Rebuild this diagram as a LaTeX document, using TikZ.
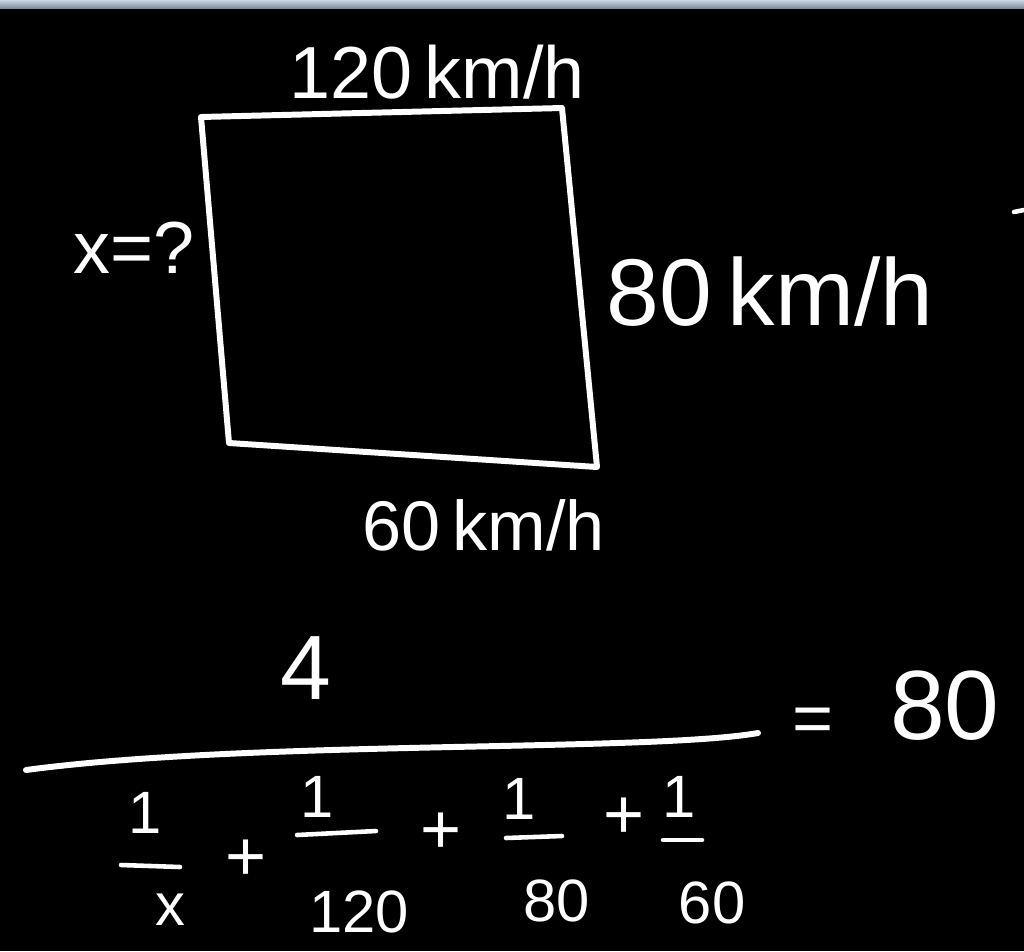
\documentclass[tikz,border=0pt]{standalone}
\usepackage{fontspec}
\setmainfont{Liberation Sans}
\usepackage{tikz}
\definecolor{stripcol}{HTML}{C9D6E2}
\definecolor{stripdark}{HTML}{7F8E9C}
\tikzset{
  chalk/.style={white,line width=3.4pt,line cap=round,line join=round},
  thinchalk/.style={white,line width=2.6pt,line cap=round},
  lbl/.style={text=white,inner sep=0pt,font=\fontsize{#1}{#1}\selectfont}
}
\begin{document}
\begin{tikzpicture}[x=0.02cm,y=-0.02cm]
\fill[black] (0,0) rectangle (1024,951);
\useasboundingbox (0,0) rectangle (1024,951);
\shade[top color=stripcol,bottom color=stripdark] (0,0) rectangle (1024,8);
\draw[thinchalk] (1014,212) -- (1024,210);
\draw[chalk] (201,117) -- (562,108) -- (597,467) -- (229,443) -- cycle;
\node[lbl=42] (top) at (437,72) {120\,km/h};
\node[lbl=54] (right) at (770,292) {80\,km/h};
\node[lbl=40] (bottom) at (484,525) {60\,km/h};
\node[lbl=42] (side) at (134,248) {x=?};
\node[lbl=52] (num) at (306,668) {4};
\draw[chalk] (26,770) .. controls (250,740) and (650,752) .. (758,733);
\node[lbl=40] (eq) at (813,725) {=};
\node[lbl=56] (rhs) at (945,706) {80};
\node[lbl=34] (n1) at (145,813) {1};
\draw[thinchalk] (121,865) -- (180,867);
\node[lbl=34] (d1) at (170,910) {x};
\node[lbl=40] (p1) at (246,860) {+};
\node[lbl=34] (n2) at (317,797) {1};
\draw[thinchalk] (297,835) -- (376,831);
\node[lbl=34] (d2) at (359,912) {120};
\node[lbl=40] (p2) at (441,833) {+};
\node[lbl=34] (n3) at (519,799) {1};
\draw[thinchalk] (506,838) -- (562,836);
\node[lbl=34] (d3) at (557,901) {80};
\node[lbl=40] (p3) at (624,818) {+};
\node[lbl=34] (n4) at (679,797) {1};
\draw[thinchalk] (663,840) -- (702,840);
\node[lbl=34] (d4) at (712,903) {60};
\end{tikzpicture}
\end{document}
